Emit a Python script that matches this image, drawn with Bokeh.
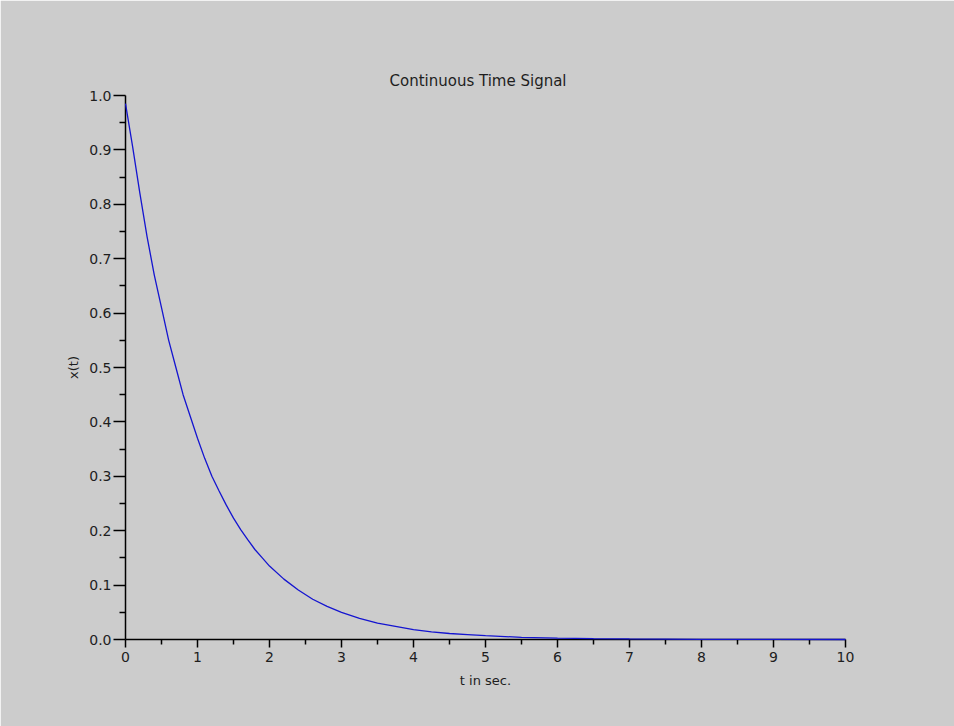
from bokeh.plotting import figure
from bokeh.models import FixedTicker, Range1d
from bokeh.embed import file_html
from bokeh.resources import INLINE

# values
t_values = [0.0, 0.1, 0.2, 0.3, 0.4, 0.5, 0.6, 0.7, 0.8, 0.9, 1.0,
            1.1, 1.2, 1.3, 1.4, 1.5, 1.6, 1.7, 1.8, 1.9, 2.0, 2.2, 2.4, 2.6,
            2.8, 3.0, 3.25, 3.5, 3.75, 4.0, 4.25, 4.5, 4.75, 5.0, 5.5, 6.0,
            6.5, 7.0, 8.0, 9.0, 10.0]
x_values = [0.985, 0.905, 0.82, 0.74, 0.67, 0.61, 0.55, 0.50, 0.45, 0.41, 0.37,
            0.333, 0.30, 0.273, 0.247, 0.223, 0.202, 0.183, 0.165, 0.15, 0.135,
            0.111, 0.091, 0.074, 0.061, 0.05, 0.039, 0.03, 0.024, 0.018, 0.014,
            0.011, 0.009, 0.007, 0.004, 0.0025, 0.0015, 0.001, 0.0003, 0.0001, 0.0]
x_ticks = [0, 1, 2, 3, 4, 5, 6, 7, 8, 9, 10]
y_ticks = [0.0, 0.1, 0.2, 0.3, 0.4, 0.5, 0.6, 0.7, 0.8, 0.9, 1.0]
y_tick_labels = ["0.0", "0.1", "0.2", "0.3", "0.4", "0.5", "0.6", "0.7", "0.8", "0.9", "1.0"]
title_text = "Continuous Time Signal"
x_label = "t in sec."
y_label = "x(t)"

BG = "#cccccc"
FONT = "DejaVu Sans"
TXT = "#1e1e1e"

p = figure(width=954, height=726, output_backend="svg", toolbar_location=None,
           x_range=Range1d(0, 10), y_range=Range1d(0, 1),
           min_border_left=125, min_border_right=109, min_border_top=95, min_border_bottom=87,
           background_fill_color=BG, border_fill_color=BG,
           outline_line_color=BG, outline_line_width=2,
           title=title_text)

p.title.align = "left"
p.title.text_font = FONT
p.title.text_font_size = "15px"
p.title.text_font_style = "normal"
p.title.text_color = TXT
p.title.offset = 264
p.title.standoff = 12

p.grid.visible = False

p.line(t_values, x_values, line_color="#1414d0", line_width=1.3, level="overlay")

for ax in (p.xaxis[0], p.yaxis[0]):
    ax.axis_line_color = "black"
    ax.axis_line_width = 1.5
    ax.major_tick_line_color = "black"
    ax.minor_tick_line_color = "black"
    ax.major_tick_line_width = 1.5
    ax.minor_tick_line_width = 1.5
    ax.major_tick_in = 0
    ax.minor_tick_in = 0
    ax.major_label_text_font = FONT
    ax.major_label_text_font_size = "14px"
    ax.major_label_text_color = TXT
    ax.axis_label_text_font = FONT
    ax.axis_label_text_font_size = "13px"
    ax.axis_label_text_font_style = "normal"
    ax.axis_label_text_color = TXT

p.xaxis.ticker = FixedTicker(ticks=x_ticks, minor_ticks=[v + 0.5 for v in x_ticks[:-1]])
p.yaxis.ticker = FixedTicker(ticks=y_ticks, minor_ticks=[round(v + 0.05, 2) for v in y_ticks[:-1]])
p.yaxis.major_label_overrides = {v: s for v, s in zip(y_ticks, y_tick_labels)}

p.xaxis.major_tick_out = 8
p.xaxis.minor_tick_out = 5
p.yaxis.major_tick_out = 12
p.yaxis.minor_tick_out = 6
p.xaxis.major_label_standoff = 4
p.yaxis.major_label_standoff = 2

p.xaxis.axis_label = x_label
p.yaxis.axis_label = y_label
p.xaxis.axis_label_standoff = 8
p.yaxis.axis_label_standoff = 5

open("out.html", "w").write(file_html(p, INLINE))
